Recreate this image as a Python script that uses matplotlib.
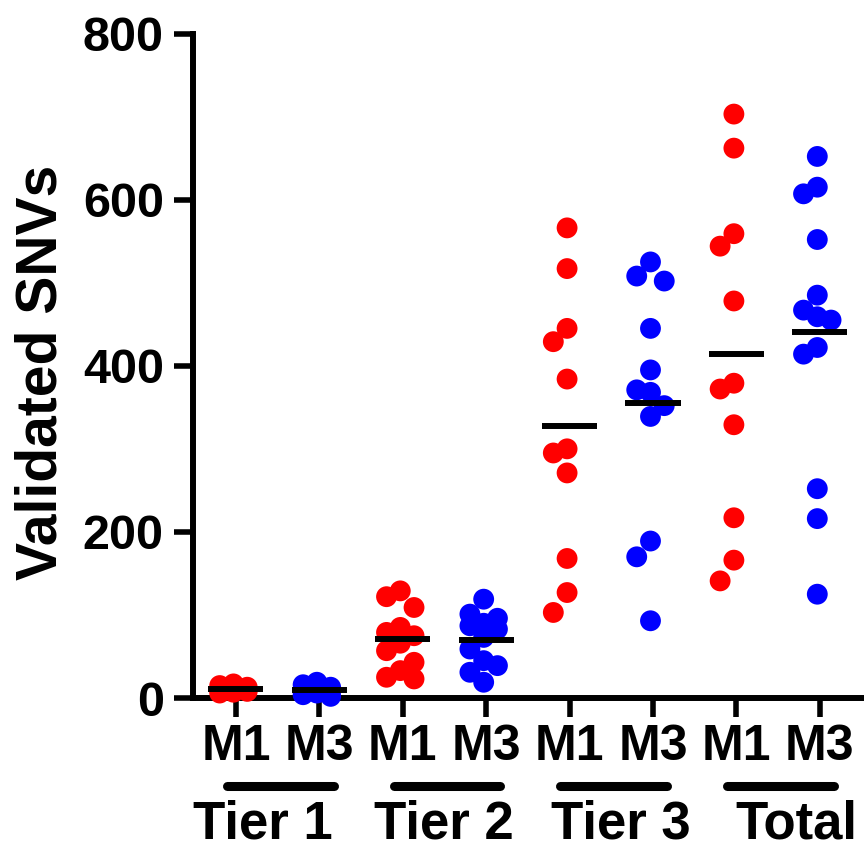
"""Validated SNVs per tier: scatter dot plot with mean bars (M1 red, M3 blue)."""
import numpy as np
import matplotlib
matplotlib.use("Agg")
import matplotlib.pyplot as plt
from matplotlib import font_manager
from matplotlib.transforms import blended_transform_factory

# ---- data -------------------------------------------------------------
groups = ["Tier 1", "Tier 2", "Tier 3", "Total"]
samples = ["M1", "M3"]
colors = ["#ff0000", "#0000ff"]

tier1_m1 = [17, 15, 13, 11, 10, 8, 7, 6]
tier1_m3 = [19, 16, 13, 12, 10, 8, 6, 4, 2]
tier2_m1 = [129, 122, 109, 85, 79, 75, 66, 57, 43, 33, 25, 23]
tier2_m3 = [119, 101, 96, 90, 87, 83, 73, 59, 45, 39, 31, 19]
tier3_m1 = [566, 517, 445, 429, 384, 300, 295, 271, 168, 127, 103]
tier3_m3 = [525, 508, 502, 445, 395, 371, 368, 352, 339, 189, 170, 93]
total_m1 = [703, 662, 559, 544, 478, 379, 372, 329, 217, 166, 141]
total_m3 = [652, 615, 607, 552, 485, 467, 459, 455, 422, 414, 252, 216, 125]

series = [tier1_m1, tier1_m3, tier2_m1, tier2_m3,
          tier3_m1, tier3_m3, total_m1, total_m3]

yticks = [0, 200, 400, 600, 800]

# ---- fonts ------------------------------------------------------------
names = {f.name for f in font_manager.fontManager.ttflist}
if "Liberation Sans Narrow" in names:
    FONT = ["Liberation Sans Narrow", "DejaVu Sans"]
else:
    FONT = ["Liberation Sans", "DejaVu Sans"]
plt.rcParams["font.family"] = FONT
plt.rcParams["font.weight"] = "bold"


def swarm_offsets(vals, ymin_gap, col_w=0.165):
    """simple 3-column spread so markers don't sit on top of each other"""
    cols = [0.0, -col_w, col_w]
    placed = {c: [] for c in cols}
    out = []
    for v in vals:
        best, best_d = None, -1
        for c in cols:
            d = min([abs(v - p) for p in placed[c]], default=np.inf)
            if d >= ymin_gap:
                best = c
                break
            if d > best_d:
                best, best_d = c, d
        placed[best].append(v)
        out.append(best)
    return np.array(out)


fig = plt.figure(figsize=(8.64, 8.57), dpi=100)
ax = fig.add_axes([0.2234, 0.1855, 1.0 - 0.2234, 0.9609 - 0.1855])

ax.set_xlim(-0.515, 7.53)
ax.set_ylim(0, 800)

# px per data unit along y ~ 0.83, marker ~21px
gap = 21 / 0.83
for i, vals in enumerate(series):
    vals = np.asarray(vals, dtype=float)
    xo = swarm_offsets(vals, gap) - 0.03
    ax.scatter(i + xo, vals, s=225, color=colors[i % 2], edgecolors="none",
               zorder=3, clip_on=False)
    m = vals.mean()
    ax.plot([i - 0.33, i + 0.33], [m, m], color="black", lw=4.3,
            solid_capstyle="butt", zorder=4, clip_on=False)

# axes styling
for s in ["top", "right"]:
    ax.spines[s].set_visible(False)
for s in ["left", "bottom"]:
    ax.spines[s].set_linewidth(4.3)
ax.set_yticks(yticks)
ax.set_yticklabels([str(t) for t in yticks])
ax.set_xticks(range(len(series)))
ax.set_xticklabels(samples * len(groups))
ax.tick_params(axis="both", direction="out", length=14, width=4)
ax.tick_params(axis="y", labelsize=35, pad=7)
ax.tick_params(axis="x", labelsize=36, pad=5)

# group underlines and tier labels
tr = blended_transform_factory(ax.transData, ax.transAxes)
label_x = [0.32, 2.49, 4.62, 6.72]
for g, name in enumerate(groups):
    c = 2 * g + 0.53
    ax.plot([c - 0.64, c + 0.64], [-0.133, -0.133], color="black", lw=6.5,
            solid_capstyle="round", transform=tr, clip_on=False)
    ax.text(label_x[g], -0.19, name, transform=tr, ha="center", va="center",
            fontsize=38, fontweight="bold")

fig.text(42 / 864, 1 - 372 / 857, "Validated SNVs", rotation=90,
         ha="center", va="center", fontsize=41, fontweight="bold")

fig.savefig("out.png", dpi=100)
